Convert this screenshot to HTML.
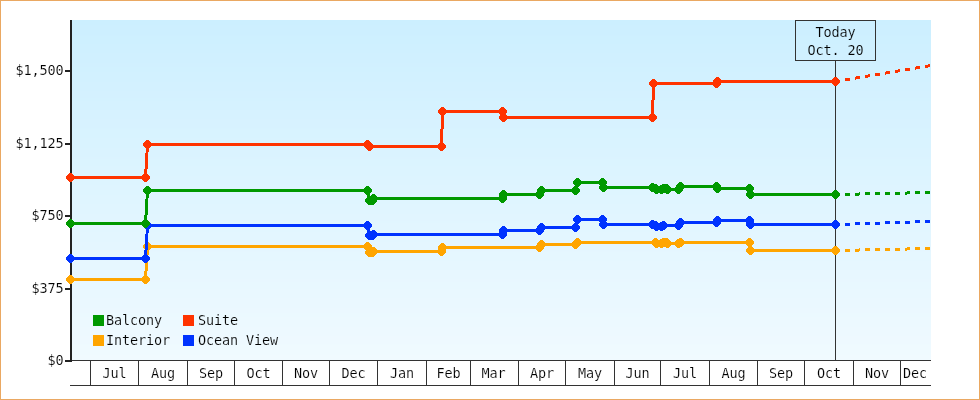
<!DOCTYPE html>
<html><head><meta charset="utf-8"><title>Price History</title>
<style>
html,body{margin:0;padding:0;background:#fff;}
#chart{position:relative;width:980px;height:400px;box-sizing:border-box;border:1px solid #eaa862;overflow:hidden;}
#chart svg{position:absolute;left:-1px;top:-1px;display:block;will-change:transform;}
</style></head><body>
<div id="chart">
<svg width="980" height="400" viewBox="0 0 980 400">
<g shape-rendering="crispEdges">
<rect x="72" y="20" width="859" height="5" fill="#ccefff"/>
<rect x="72" y="25" width="859" height="10" fill="#cdefff"/>
<rect x="72" y="35" width="859" height="1" fill="#ceefff"/>
<rect x="72" y="36" width="859" height="8" fill="#cef0ff"/>
<rect x="72" y="44" width="859" height="9" fill="#cff0ff"/>
<rect x="72" y="53" width="859" height="10" fill="#d0f0ff"/>
<rect x="72" y="63" width="859" height="4" fill="#d1f0ff"/>
<rect x="72" y="67" width="859" height="5" fill="#d1f1ff"/>
<rect x="72" y="72" width="859" height="10" fill="#d2f1ff"/>
<rect x="72" y="82" width="859" height="9" fill="#d3f1ff"/>
<rect x="72" y="91" width="859" height="7" fill="#d4f1ff"/>
<rect x="72" y="98" width="859" height="3" fill="#d4f2ff"/>
<rect x="72" y="101" width="859" height="9" fill="#d5f2ff"/>
<rect x="72" y="110" width="859" height="9" fill="#d6f2ff"/>
<rect x="72" y="119" width="859" height="9" fill="#d7f2ff"/>
<rect x="72" y="128" width="859" height="1" fill="#d7f3ff"/>
<rect x="72" y="129" width="859" height="9" fill="#d8f3ff"/>
<rect x="72" y="138" width="859" height="10" fill="#d9f3ff"/>
<rect x="72" y="148" width="859" height="9" fill="#daf3ff"/>
<rect x="72" y="157" width="859" height="2" fill="#dbf3ff"/>
<rect x="72" y="159" width="859" height="7" fill="#dbf4ff"/>
<rect x="72" y="166" width="859" height="10" fill="#dcf4ff"/>
<rect x="72" y="176" width="859" height="9" fill="#ddf4ff"/>
<rect x="72" y="185" width="859" height="5" fill="#def4ff"/>
<rect x="72" y="190" width="859" height="5" fill="#def5ff"/>
<rect x="72" y="195" width="859" height="9" fill="#dff5ff"/>
<rect x="72" y="204" width="859" height="10" fill="#e0f5ff"/>
<rect x="72" y="214" width="859" height="7" fill="#e1f5ff"/>
<rect x="72" y="221" width="859" height="2" fill="#e1f6ff"/>
<rect x="72" y="223" width="859" height="9" fill="#e2f6ff"/>
<rect x="72" y="232" width="859" height="10" fill="#e3f6ff"/>
<rect x="72" y="242" width="859" height="9" fill="#e4f6ff"/>
<rect x="72" y="251" width="859" height="1" fill="#e5f6ff"/>
<rect x="72" y="252" width="859" height="9" fill="#e5f7ff"/>
<rect x="72" y="261" width="859" height="9" fill="#e6f7ff"/>
<rect x="72" y="270" width="859" height="9" fill="#e7f7ff"/>
<rect x="72" y="279" width="859" height="3" fill="#e8f7ff"/>
<rect x="72" y="282" width="859" height="7" fill="#e8f8ff"/>
<rect x="72" y="289" width="859" height="9" fill="#e9f8ff"/>
<rect x="72" y="298" width="859" height="10" fill="#eaf8ff"/>
<rect x="72" y="308" width="859" height="5" fill="#ebf8ff"/>
<rect x="72" y="313" width="859" height="4" fill="#ebf9ff"/>
<rect x="72" y="317" width="859" height="10" fill="#ecf9ff"/>
<rect x="72" y="327" width="859" height="9" fill="#edf9ff"/>
<rect x="72" y="336" width="859" height="8" fill="#eef9ff"/>
<rect x="72" y="344" width="859" height="1" fill="#eefaff"/>
<rect x="72" y="345" width="859" height="10" fill="#effaff"/>
<rect x="72" y="355" width="859" height="5" fill="#f0faff"/>
</g>
<g shape-rendering="crispEdges" fill="#222">
<rect x="70" y="20" width="2" height="342"/>
<rect x="65" y="70" width="5" height="2"/>
<rect x="65" y="143" width="5" height="2"/>
<rect x="65" y="215" width="5" height="2"/>
<rect x="65" y="288" width="5" height="2"/>
<rect x="65" y="360" width="5" height="2"/>
</g>
<g shape-rendering="crispEdges" stroke="#333" stroke-width="1" fill="none">
<line x1="72" y1="360.5" x2="931" y2="360.5"/>
<line x1="70" y1="385.5" x2="931" y2="385.5"/>
<line x1="90.5" y1="361" x2="90.5" y2="385"/>
<line x1="138.5" y1="361" x2="138.5" y2="385"/>
<line x1="187.5" y1="361" x2="187.5" y2="385"/>
<line x1="234.5" y1="361" x2="234.5" y2="385"/>
<line x1="282.5" y1="361" x2="282.5" y2="385"/>
<line x1="329.5" y1="361" x2="329.5" y2="385"/>
<line x1="377.5" y1="361" x2="377.5" y2="385"/>
<line x1="426.5" y1="361" x2="426.5" y2="385"/>
<line x1="470.5" y1="361" x2="470.5" y2="385"/>
<line x1="518.5" y1="361" x2="518.5" y2="385"/>
<line x1="565.5" y1="361" x2="565.5" y2="385"/>
<line x1="614.5" y1="361" x2="614.5" y2="385"/>
<line x1="660.5" y1="361" x2="660.5" y2="385"/>
<line x1="709.5" y1="361" x2="709.5" y2="385"/>
<line x1="757.5" y1="361" x2="757.5" y2="385"/>
<line x1="804.5" y1="361" x2="804.5" y2="385"/>
<line x1="853.5" y1="361" x2="853.5" y2="385"/>
<line x1="900.5" y1="361" x2="900.5" y2="385"/>
<rect x="795.5" y="20.5" width="80" height="40"/>
<line x1="835.5" y1="61" x2="835.5" y2="360"/>
</g>
<g shape-rendering="crispEdges">
<polyline points="70.5,279.5 145.5,279.5 147.5,246.5 367.5,246.5 369.5,252.5 372.5,252.5 373.5,251.5 441.5,251.5 442.5,247.5 539.5,247.5 541.5,244.5 575.5,244.5 577.5,242.5 655.5,242.5 656.5,243.5 661.5,243.5 663.5,242.5 666.5,242.5 667.5,243.5 678.5,243.5 680.5,242.5 749.5,242.5 750.5,250.5 835.5,250.5" fill="none" stroke="#ffa500" stroke-width="3" stroke-linejoin="miter"/>
<rect x="845" y="249" width="5" height="3" fill="#ffa500"/><rect x="855" y="249" width="4" height="3" fill="#ffa500"/><rect x="859" y="248" width="1" height="3" fill="#ffa500"/><rect x="865" y="248" width="5" height="3" fill="#ffa500"/><rect x="875" y="248" width="5" height="3" fill="#ffa500"/><rect x="885" y="248" width="5" height="3" fill="#ffa500"/><rect x="895" y="248" width="5" height="3" fill="#ffa500"/><rect x="905" y="248" width="2" height="3" fill="#ffa500"/><rect x="907" y="247" width="3" height="3" fill="#ffa500"/><rect x="915" y="247" width="5" height="3" fill="#ffa500"/><rect x="925" y="247" width="5" height="3" fill="#ffa500"/>
<path d="M69,275h3v1h1v1h1v1h1v3h-1v1h-1v1h-1v1h-3v-1h-1v-1h-1v-1h-1v-3h1v-1h1v-1h1z" fill="#ffa500"/><path d="M144,275h3v1h1v1h1v1h1v3h-1v1h-1v1h-1v1h-3v-1h-1v-1h-1v-1h-1v-3h1v-1h1v-1h1z" fill="#ffa500"/><path d="M146,242h3v1h1v1h1v1h1v3h-1v1h-1v1h-1v1h-3v-1h-1v-1h-1v-1h-1v-3h1v-1h1v-1h1z" fill="#ffa500"/><path d="M366,242h3v1h1v1h1v1h1v3h-1v1h-1v1h-1v1h-3v-1h-1v-1h-1v-1h-1v-3h1v-1h1v-1h1z" fill="#ffa500"/><path d="M368,248h3v1h1v1h1v1h1v3h-1v1h-1v1h-1v1h-3v-1h-1v-1h-1v-1h-1v-3h1v-1h1v-1h1z" fill="#ffa500"/><path d="M371,248h3v1h1v1h1v1h1v3h-1v1h-1v1h-1v1h-3v-1h-1v-1h-1v-1h-1v-3h1v-1h1v-1h1z" fill="#ffa500"/><path d="M372,247h3v1h1v1h1v1h1v3h-1v1h-1v1h-1v1h-3v-1h-1v-1h-1v-1h-1v-3h1v-1h1v-1h1z" fill="#ffa500"/><path d="M440,247h3v1h1v1h1v1h1v3h-1v1h-1v1h-1v1h-3v-1h-1v-1h-1v-1h-1v-3h1v-1h1v-1h1z" fill="#ffa500"/><path d="M441,243h3v1h1v1h1v1h1v3h-1v1h-1v1h-1v1h-3v-1h-1v-1h-1v-1h-1v-3h1v-1h1v-1h1z" fill="#ffa500"/><path d="M538,243h3v1h1v1h1v1h1v3h-1v1h-1v1h-1v1h-3v-1h-1v-1h-1v-1h-1v-3h1v-1h1v-1h1z" fill="#ffa500"/><path d="M540,240h3v1h1v1h1v1h1v3h-1v1h-1v1h-1v1h-3v-1h-1v-1h-1v-1h-1v-3h1v-1h1v-1h1z" fill="#ffa500"/><path d="M574,240h3v1h1v1h1v1h1v3h-1v1h-1v1h-1v1h-3v-1h-1v-1h-1v-1h-1v-3h1v-1h1v-1h1z" fill="#ffa500"/><path d="M576,238h3v1h1v1h1v1h1v3h-1v1h-1v1h-1v1h-3v-1h-1v-1h-1v-1h-1v-3h1v-1h1v-1h1z" fill="#ffa500"/><path d="M654,238h3v1h1v1h1v1h1v3h-1v1h-1v1h-1v1h-3v-1h-1v-1h-1v-1h-1v-3h1v-1h1v-1h1z" fill="#ffa500"/><path d="M655,239h3v1h1v1h1v1h1v3h-1v1h-1v1h-1v1h-3v-1h-1v-1h-1v-1h-1v-3h1v-1h1v-1h1z" fill="#ffa500"/><path d="M660,239h3v1h1v1h1v1h1v3h-1v1h-1v1h-1v1h-3v-1h-1v-1h-1v-1h-1v-3h1v-1h1v-1h1z" fill="#ffa500"/><path d="M662,238h3v1h1v1h1v1h1v3h-1v1h-1v1h-1v1h-3v-1h-1v-1h-1v-1h-1v-3h1v-1h1v-1h1z" fill="#ffa500"/><path d="M665,238h3v1h1v1h1v1h1v3h-1v1h-1v1h-1v1h-3v-1h-1v-1h-1v-1h-1v-3h1v-1h1v-1h1z" fill="#ffa500"/><path d="M666,239h3v1h1v1h1v1h1v3h-1v1h-1v1h-1v1h-3v-1h-1v-1h-1v-1h-1v-3h1v-1h1v-1h1z" fill="#ffa500"/><path d="M677,239h3v1h1v1h1v1h1v3h-1v1h-1v1h-1v1h-3v-1h-1v-1h-1v-1h-1v-3h1v-1h1v-1h1z" fill="#ffa500"/><path d="M679,238h3v1h1v1h1v1h1v3h-1v1h-1v1h-1v1h-3v-1h-1v-1h-1v-1h-1v-3h1v-1h1v-1h1z" fill="#ffa500"/><path d="M748,238h3v1h1v1h1v1h1v3h-1v1h-1v1h-1v1h-3v-1h-1v-1h-1v-1h-1v-3h1v-1h1v-1h1z" fill="#ffa500"/><path d="M749,246h3v1h1v1h1v1h1v3h-1v1h-1v1h-1v1h-3v-1h-1v-1h-1v-1h-1v-3h1v-1h1v-1h1z" fill="#ffa500"/><path d="M834,246h3v1h1v1h1v1h1v3h-1v1h-1v1h-1v1h-3v-1h-1v-1h-1v-1h-1v-3h1v-1h1v-1h1z" fill="#ffa500"/>

<polyline points="70.5,258.5 145.5,258.5 147.5,225.5 367.5,225.5 369.5,235.5 372.5,235.5 373.5,234.5 502.5,234.5 503.5,230.5 539.5,230.5 541.5,227.5 575.5,227.5 577.5,219.5 602.5,219.5 603.5,224.5 652.5,224.5 655.5,225.5 656.5,226.5 661.5,226.5 663.5,225.5 678.5,225.5 680.5,222.5 716.5,222.5 717.5,220.5 749.5,220.5 750.5,224.5 835.5,224.5" fill="none" stroke="#0033ff" stroke-width="3" stroke-linejoin="miter"/>
<rect x="845" y="223" width="5" height="3" fill="#0033ff"/><rect x="855" y="222" width="5" height="3" fill="#0033ff"/><rect x="865" y="222" width="5" height="3" fill="#0033ff"/><rect x="875" y="222" width="5" height="3" fill="#0033ff"/><rect x="885" y="221" width="5" height="3" fill="#0033ff"/><rect x="895" y="221" width="5" height="3" fill="#0033ff"/><rect x="905" y="221" width="5" height="3" fill="#0033ff"/><rect x="915" y="220" width="5" height="3" fill="#0033ff"/><rect x="925" y="220" width="5" height="3" fill="#0033ff"/>
<path d="M69,254h3v1h1v1h1v1h1v3h-1v1h-1v1h-1v1h-3v-1h-1v-1h-1v-1h-1v-3h1v-1h1v-1h1z" fill="#0033ff"/><path d="M144,254h3v1h1v1h1v1h1v3h-1v1h-1v1h-1v1h-3v-1h-1v-1h-1v-1h-1v-3h1v-1h1v-1h1z" fill="#0033ff"/><path d="M146,221h3v1h1v1h1v1h1v3h-1v1h-1v1h-1v1h-3v-1h-1v-1h-1v-1h-1v-3h1v-1h1v-1h1z" fill="#0033ff"/><path d="M366,221h3v1h1v1h1v1h1v3h-1v1h-1v1h-1v1h-3v-1h-1v-1h-1v-1h-1v-3h1v-1h1v-1h1z" fill="#0033ff"/><path d="M368,231h3v1h1v1h1v1h1v3h-1v1h-1v1h-1v1h-3v-1h-1v-1h-1v-1h-1v-3h1v-1h1v-1h1z" fill="#0033ff"/><path d="M371,231h3v1h1v1h1v1h1v3h-1v1h-1v1h-1v1h-3v-1h-1v-1h-1v-1h-1v-3h1v-1h1v-1h1z" fill="#0033ff"/><path d="M372,230h3v1h1v1h1v1h1v3h-1v1h-1v1h-1v1h-3v-1h-1v-1h-1v-1h-1v-3h1v-1h1v-1h1z" fill="#0033ff"/><path d="M501,230h3v1h1v1h1v1h1v3h-1v1h-1v1h-1v1h-3v-1h-1v-1h-1v-1h-1v-3h1v-1h1v-1h1z" fill="#0033ff"/><path d="M502,226h3v1h1v1h1v1h1v3h-1v1h-1v1h-1v1h-3v-1h-1v-1h-1v-1h-1v-3h1v-1h1v-1h1z" fill="#0033ff"/><path d="M538,226h3v1h1v1h1v1h1v3h-1v1h-1v1h-1v1h-3v-1h-1v-1h-1v-1h-1v-3h1v-1h1v-1h1z" fill="#0033ff"/><path d="M540,223h3v1h1v1h1v1h1v3h-1v1h-1v1h-1v1h-3v-1h-1v-1h-1v-1h-1v-3h1v-1h1v-1h1z" fill="#0033ff"/><path d="M574,223h3v1h1v1h1v1h1v3h-1v1h-1v1h-1v1h-3v-1h-1v-1h-1v-1h-1v-3h1v-1h1v-1h1z" fill="#0033ff"/><path d="M576,215h3v1h1v1h1v1h1v3h-1v1h-1v1h-1v1h-3v-1h-1v-1h-1v-1h-1v-3h1v-1h1v-1h1z" fill="#0033ff"/><path d="M601,215h3v1h1v1h1v1h1v3h-1v1h-1v1h-1v1h-3v-1h-1v-1h-1v-1h-1v-3h1v-1h1v-1h1z" fill="#0033ff"/><path d="M602,220h3v1h1v1h1v1h1v3h-1v1h-1v1h-1v1h-3v-1h-1v-1h-1v-1h-1v-3h1v-1h1v-1h1z" fill="#0033ff"/><path d="M651,220h3v1h1v1h1v1h1v3h-1v1h-1v1h-1v1h-3v-1h-1v-1h-1v-1h-1v-3h1v-1h1v-1h1z" fill="#0033ff"/><path d="M654,221h3v1h1v1h1v1h1v3h-1v1h-1v1h-1v1h-3v-1h-1v-1h-1v-1h-1v-3h1v-1h1v-1h1z" fill="#0033ff"/><path d="M655,222h3v1h1v1h1v1h1v3h-1v1h-1v1h-1v1h-3v-1h-1v-1h-1v-1h-1v-3h1v-1h1v-1h1z" fill="#0033ff"/><path d="M660,222h3v1h1v1h1v1h1v3h-1v1h-1v1h-1v1h-3v-1h-1v-1h-1v-1h-1v-3h1v-1h1v-1h1z" fill="#0033ff"/><path d="M662,221h3v1h1v1h1v1h1v3h-1v1h-1v1h-1v1h-3v-1h-1v-1h-1v-1h-1v-3h1v-1h1v-1h1z" fill="#0033ff"/><path d="M677,221h3v1h1v1h1v1h1v3h-1v1h-1v1h-1v1h-3v-1h-1v-1h-1v-1h-1v-3h1v-1h1v-1h1z" fill="#0033ff"/><path d="M679,218h3v1h1v1h1v1h1v3h-1v1h-1v1h-1v1h-3v-1h-1v-1h-1v-1h-1v-3h1v-1h1v-1h1z" fill="#0033ff"/><path d="M715,218h3v1h1v1h1v1h1v3h-1v1h-1v1h-1v1h-3v-1h-1v-1h-1v-1h-1v-3h1v-1h1v-1h1z" fill="#0033ff"/><path d="M716,216h3v1h1v1h1v1h1v3h-1v1h-1v1h-1v1h-3v-1h-1v-1h-1v-1h-1v-3h1v-1h1v-1h1z" fill="#0033ff"/><path d="M748,216h3v1h1v1h1v1h1v3h-1v1h-1v1h-1v1h-3v-1h-1v-1h-1v-1h-1v-3h1v-1h1v-1h1z" fill="#0033ff"/><path d="M749,220h3v1h1v1h1v1h1v3h-1v1h-1v1h-1v1h-3v-1h-1v-1h-1v-1h-1v-3h1v-1h1v-1h1z" fill="#0033ff"/><path d="M834,220h3v1h1v1h1v1h1v3h-1v1h-1v1h-1v1h-3v-1h-1v-1h-1v-1h-1v-3h1v-1h1v-1h1z" fill="#0033ff"/>

<polyline points="70.5,223.5 145.5,223.5 147.5,190.5 367.5,190.5 369.5,200.5 372.5,200.5 373.5,198.5 502.5,198.5 503.5,194.5 539.5,194.5 541.5,190.5 575.5,190.5 577.5,182.5 602.5,182.5 603.5,187.5 652.5,187.5 655.5,188.5 656.5,189.5 661.5,189.5 663.5,188.5 666.5,188.5 667.5,189.5 678.5,189.5 680.5,186.5 716.5,186.5 717.5,188.5 749.5,188.5 750.5,194.5 835.5,194.5" fill="none" stroke="#009900" stroke-width="3" stroke-linejoin="miter"/>
<rect x="845" y="193" width="5" height="3" fill="#009900"/><rect x="855" y="193" width="4" height="3" fill="#009900"/><rect x="859" y="192" width="1" height="3" fill="#009900"/><rect x="865" y="192" width="5" height="3" fill="#009900"/><rect x="875" y="192" width="5" height="3" fill="#009900"/><rect x="885" y="192" width="5" height="3" fill="#009900"/><rect x="895" y="192" width="5" height="3" fill="#009900"/><rect x="905" y="192" width="2" height="3" fill="#009900"/><rect x="907" y="191" width="3" height="3" fill="#009900"/><rect x="915" y="191" width="5" height="3" fill="#009900"/><rect x="925" y="191" width="5" height="3" fill="#009900"/>
<path d="M69,219h3v1h1v1h1v1h1v3h-1v1h-1v1h-1v1h-3v-1h-1v-1h-1v-1h-1v-3h1v-1h1v-1h1z" fill="#009900"/><path d="M144,219h3v1h1v1h1v1h1v3h-1v1h-1v1h-1v1h-3v-1h-1v-1h-1v-1h-1v-3h1v-1h1v-1h1z" fill="#009900"/><path d="M146,186h3v1h1v1h1v1h1v3h-1v1h-1v1h-1v1h-3v-1h-1v-1h-1v-1h-1v-3h1v-1h1v-1h1z" fill="#009900"/><path d="M366,186h3v1h1v1h1v1h1v3h-1v1h-1v1h-1v1h-3v-1h-1v-1h-1v-1h-1v-3h1v-1h1v-1h1z" fill="#009900"/><path d="M368,196h3v1h1v1h1v1h1v3h-1v1h-1v1h-1v1h-3v-1h-1v-1h-1v-1h-1v-3h1v-1h1v-1h1z" fill="#009900"/><path d="M371,196h3v1h1v1h1v1h1v3h-1v1h-1v1h-1v1h-3v-1h-1v-1h-1v-1h-1v-3h1v-1h1v-1h1z" fill="#009900"/><path d="M372,194h3v1h1v1h1v1h1v3h-1v1h-1v1h-1v1h-3v-1h-1v-1h-1v-1h-1v-3h1v-1h1v-1h1z" fill="#009900"/><path d="M501,194h3v1h1v1h1v1h1v3h-1v1h-1v1h-1v1h-3v-1h-1v-1h-1v-1h-1v-3h1v-1h1v-1h1z" fill="#009900"/><path d="M502,190h3v1h1v1h1v1h1v3h-1v1h-1v1h-1v1h-3v-1h-1v-1h-1v-1h-1v-3h1v-1h1v-1h1z" fill="#009900"/><path d="M538,190h3v1h1v1h1v1h1v3h-1v1h-1v1h-1v1h-3v-1h-1v-1h-1v-1h-1v-3h1v-1h1v-1h1z" fill="#009900"/><path d="M540,186h3v1h1v1h1v1h1v3h-1v1h-1v1h-1v1h-3v-1h-1v-1h-1v-1h-1v-3h1v-1h1v-1h1z" fill="#009900"/><path d="M574,186h3v1h1v1h1v1h1v3h-1v1h-1v1h-1v1h-3v-1h-1v-1h-1v-1h-1v-3h1v-1h1v-1h1z" fill="#009900"/><path d="M576,178h3v1h1v1h1v1h1v3h-1v1h-1v1h-1v1h-3v-1h-1v-1h-1v-1h-1v-3h1v-1h1v-1h1z" fill="#009900"/><path d="M601,178h3v1h1v1h1v1h1v3h-1v1h-1v1h-1v1h-3v-1h-1v-1h-1v-1h-1v-3h1v-1h1v-1h1z" fill="#009900"/><path d="M602,183h3v1h1v1h1v1h1v3h-1v1h-1v1h-1v1h-3v-1h-1v-1h-1v-1h-1v-3h1v-1h1v-1h1z" fill="#009900"/><path d="M651,183h3v1h1v1h1v1h1v3h-1v1h-1v1h-1v1h-3v-1h-1v-1h-1v-1h-1v-3h1v-1h1v-1h1z" fill="#009900"/><path d="M654,184h3v1h1v1h1v1h1v3h-1v1h-1v1h-1v1h-3v-1h-1v-1h-1v-1h-1v-3h1v-1h1v-1h1z" fill="#009900"/><path d="M655,185h3v1h1v1h1v1h1v3h-1v1h-1v1h-1v1h-3v-1h-1v-1h-1v-1h-1v-3h1v-1h1v-1h1z" fill="#009900"/><path d="M660,185h3v1h1v1h1v1h1v3h-1v1h-1v1h-1v1h-3v-1h-1v-1h-1v-1h-1v-3h1v-1h1v-1h1z" fill="#009900"/><path d="M662,184h3v1h1v1h1v1h1v3h-1v1h-1v1h-1v1h-3v-1h-1v-1h-1v-1h-1v-3h1v-1h1v-1h1z" fill="#009900"/><path d="M665,184h3v1h1v1h1v1h1v3h-1v1h-1v1h-1v1h-3v-1h-1v-1h-1v-1h-1v-3h1v-1h1v-1h1z" fill="#009900"/><path d="M666,185h3v1h1v1h1v1h1v3h-1v1h-1v1h-1v1h-3v-1h-1v-1h-1v-1h-1v-3h1v-1h1v-1h1z" fill="#009900"/><path d="M677,185h3v1h1v1h1v1h1v3h-1v1h-1v1h-1v1h-3v-1h-1v-1h-1v-1h-1v-3h1v-1h1v-1h1z" fill="#009900"/><path d="M679,182h3v1h1v1h1v1h1v3h-1v1h-1v1h-1v1h-3v-1h-1v-1h-1v-1h-1v-3h1v-1h1v-1h1z" fill="#009900"/><path d="M715,182h3v1h1v1h1v1h1v3h-1v1h-1v1h-1v1h-3v-1h-1v-1h-1v-1h-1v-3h1v-1h1v-1h1z" fill="#009900"/><path d="M716,184h3v1h1v1h1v1h1v3h-1v1h-1v1h-1v1h-3v-1h-1v-1h-1v-1h-1v-3h1v-1h1v-1h1z" fill="#009900"/><path d="M748,184h3v1h1v1h1v1h1v3h-1v1h-1v1h-1v1h-3v-1h-1v-1h-1v-1h-1v-3h1v-1h1v-1h1z" fill="#009900"/><path d="M749,190h3v1h1v1h1v1h1v3h-1v1h-1v1h-1v1h-3v-1h-1v-1h-1v-1h-1v-3h1v-1h1v-1h1z" fill="#009900"/><path d="M834,190h3v1h1v1h1v1h1v3h-1v1h-1v1h-1v1h-3v-1h-1v-1h-1v-1h-1v-3h1v-1h1v-1h1z" fill="#009900"/>

<polyline points="70.5,177.5 145.5,177.5 147.5,144.5 367.5,144.5 369.5,146.5 441.5,146.5 442.5,111.5 502.5,111.5 503.5,117.5 652.5,117.5 653.5,83.5 716.5,83.5 717.5,81.5 835.5,81.5" fill="none" stroke="#ff3300" stroke-width="3" stroke-linejoin="miter"/>
<rect x="845" y="78" width="5" height="3" fill="#ff3300"/><rect x="855" y="77" width="1" height="3" fill="#ff3300"/><rect x="856" y="76" width="4" height="3" fill="#ff3300"/><rect x="865" y="75" width="3" height="3" fill="#ff3300"/><rect x="868" y="74" width="2" height="3" fill="#ff3300"/><rect x="875" y="73" width="5" height="3" fill="#ff3300"/><rect x="885" y="72" width="1" height="3" fill="#ff3300"/><rect x="886" y="71" width="4" height="3" fill="#ff3300"/><rect x="895" y="70" width="3" height="3" fill="#ff3300"/><rect x="898" y="69" width="2" height="3" fill="#ff3300"/><rect x="905" y="68" width="5" height="3" fill="#ff3300"/><rect x="915" y="67" width="1" height="3" fill="#ff3300"/><rect x="916" y="66" width="4" height="3" fill="#ff3300"/><rect x="925" y="65" width="3" height="3" fill="#ff3300"/><rect x="928" y="64" width="2" height="3" fill="#ff3300"/>
<path d="M69,173h3v1h1v1h1v1h1v3h-1v1h-1v1h-1v1h-3v-1h-1v-1h-1v-1h-1v-3h1v-1h1v-1h1z" fill="#ff3300"/><path d="M144,173h3v1h1v1h1v1h1v3h-1v1h-1v1h-1v1h-3v-1h-1v-1h-1v-1h-1v-3h1v-1h1v-1h1z" fill="#ff3300"/><path d="M146,140h3v1h1v1h1v1h1v3h-1v1h-1v1h-1v1h-3v-1h-1v-1h-1v-1h-1v-3h1v-1h1v-1h1z" fill="#ff3300"/><path d="M366,140h3v1h1v1h1v1h1v3h-1v1h-1v1h-1v1h-3v-1h-1v-1h-1v-1h-1v-3h1v-1h1v-1h1z" fill="#ff3300"/><path d="M368,142h3v1h1v1h1v1h1v3h-1v1h-1v1h-1v1h-3v-1h-1v-1h-1v-1h-1v-3h1v-1h1v-1h1z" fill="#ff3300"/><path d="M440,142h3v1h1v1h1v1h1v3h-1v1h-1v1h-1v1h-3v-1h-1v-1h-1v-1h-1v-3h1v-1h1v-1h1z" fill="#ff3300"/><path d="M441,107h3v1h1v1h1v1h1v3h-1v1h-1v1h-1v1h-3v-1h-1v-1h-1v-1h-1v-3h1v-1h1v-1h1z" fill="#ff3300"/><path d="M501,107h3v1h1v1h1v1h1v3h-1v1h-1v1h-1v1h-3v-1h-1v-1h-1v-1h-1v-3h1v-1h1v-1h1z" fill="#ff3300"/><path d="M502,113h3v1h1v1h1v1h1v3h-1v1h-1v1h-1v1h-3v-1h-1v-1h-1v-1h-1v-3h1v-1h1v-1h1z" fill="#ff3300"/><path d="M651,113h3v1h1v1h1v1h1v3h-1v1h-1v1h-1v1h-3v-1h-1v-1h-1v-1h-1v-3h1v-1h1v-1h1z" fill="#ff3300"/><path d="M652,79h3v1h1v1h1v1h1v3h-1v1h-1v1h-1v1h-3v-1h-1v-1h-1v-1h-1v-3h1v-1h1v-1h1z" fill="#ff3300"/><path d="M715,79h3v1h1v1h1v1h1v3h-1v1h-1v1h-1v1h-3v-1h-1v-1h-1v-1h-1v-3h1v-1h1v-1h1z" fill="#ff3300"/><path d="M716,77h3v1h1v1h1v1h1v3h-1v1h-1v1h-1v1h-3v-1h-1v-1h-1v-1h-1v-3h1v-1h1v-1h1z" fill="#ff3300"/><path d="M834,77h3v1h1v1h1v1h1v3h-1v1h-1v1h-1v1h-3v-1h-1v-1h-1v-1h-1v-3h1v-1h1v-1h1z" fill="#ff3300"/>

</g>
<g shape-rendering="crispEdges">
<rect x="93" y="315" width="11" height="11" fill="#009900"/>
<rect x="93" y="335" width="11" height="11" fill="#ffa500"/>
<rect x="183" y="315" width="11" height="11" fill="#ff3300"/>
<rect x="183" y="335" width="11" height="11" fill="#0033ff"/>
</g>
<g font-family="DejaVu Sans Mono, Liberation Mono, monospace" font-size="13.5" letter-spacing="-0.127" fill="#000" stroke-width="0.15">
<g stroke="#fff">
<text x="63.5" y="75" text-anchor="end">$1,500</text>
<text x="63.5" y="148" text-anchor="end">$1,125</text>
<text x="63.5" y="220" text-anchor="end">$750</text>
<text x="63.5" y="293" text-anchor="end">$375</text>
<text x="63.5" y="365" text-anchor="end">$0</text>
<text x="114.5" y="378" text-anchor="middle">Jul</text>
<text x="163.0" y="378" text-anchor="middle">Aug</text>
<text x="211.0" y="378" text-anchor="middle">Sep</text>
<text x="258.5" y="378" text-anchor="middle">Oct</text>
<text x="306.0" y="378" text-anchor="middle">Nov</text>
<text x="353.5" y="378" text-anchor="middle">Dec</text>
<text x="402.0" y="378" text-anchor="middle">Jan</text>
<text x="448.5" y="378" text-anchor="middle">Feb</text>
<text x="493.5" y="378" text-anchor="middle">Mar</text>
<text x="542.0" y="378" text-anchor="middle">Apr</text>
<text x="590.0" y="378" text-anchor="middle">May</text>
<text x="637.5" y="378" text-anchor="middle">Jun</text>
<text x="685.0" y="378" text-anchor="middle">Jul</text>
<text x="733.5" y="378" text-anchor="middle">Aug</text>
<text x="781.0" y="378" text-anchor="middle">Sep</text>
<text x="829.0" y="378" text-anchor="middle">Oct</text>
<text x="877.0" y="378" text-anchor="middle">Nov</text>
<text x="915.0" y="378" text-anchor="middle">Dec</text>
</g>
<g stroke="#ceeffe">
<text x="835.5" y="37" text-anchor="middle">Today</text>
<text x="835.5" y="55" text-anchor="middle">Oct. 20</text>
</g>
<g stroke="#ecf8ff">
<text x="106" y="325">Balcony</text>
<text x="106" y="345">Interior</text>
<text x="198" y="325">Suite</text>
<text x="198" y="345">Ocean View</text>
</g>
</g>
</svg>
</div>
</body></html>
